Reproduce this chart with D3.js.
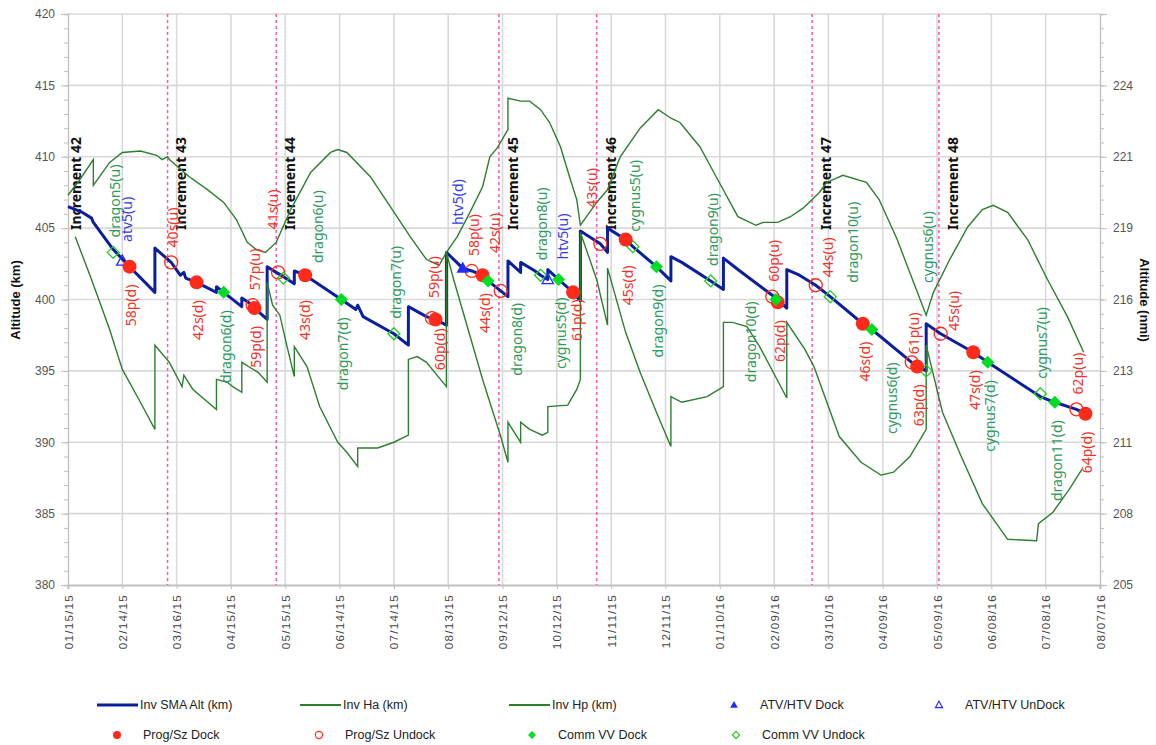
<!DOCTYPE html>
<html><head><meta charset="utf-8">
<script src="https://cdn.jsdelivr.net/npm/d3@7/dist/d3.min.js"></script>
<style>body{margin:0;background:#fff}svg{display:block}</style>
</head><body><svg id="c" width="1156" height="745"></svg>
<script>
// ---------------- DATA ----------------
const xTickLabels = ["01/15/15","02/14/15","03/16/15","04/15/15","05/15/15","06/14/15","07/14/15","08/13/15","09/12/15","10/12/15","11/11/15","12/11/15","01/10/16","02/09/16","03/10/16","04/09/16","05/09/16","06/08/16","07/08/16","08/07/16"];
const kmTicks = [380,385,390,395,400,405,410,415,420];
const nmiTickLabels = ["205","208","211","213","216","219","221","224",""];

const smaAlt = [["2015-01-15",406.5],["2015-01-23",406.1],["2015-01-28",405.7],["2015-01-29",405.4],["2015-02-09",403.5],["2015-02-18",402.3],["2015-03-04",400.5],["2015-03-04",403.6],["2015-03-13",402.6],["2015-03-18",401.7],["2015-03-20",401.9],["2015-03-21",401.5],["2015-03-27",401.2],["2015-04-07",400.5],["2015-04-07",400.9],["2015-04-11",400.5],["2015-04-21",399.5],["2015-04-21",400.1],["2015-04-27",399.6],["2015-04-28",399.4],["2015-05-05",398.6],["2015-05-05",402.3],["2015-05-10",401.9],["2015-05-14",401.6],["2015-05-20",401.1],["2015-05-20",402.0],["2015-05-26",401.7],["2015-06-15",400.0],["2015-06-23",399.3],["2015-06-24",399.6],["2015-06-27",398.8],["2015-07-14",397.6],["2015-07-22",396.8],["2015-07-22",399.5],["2015-08-01",398.8],["2015-08-06",398.6],["2015-08-12",398.2],["2015-08-12",403.3],["2015-08-21",402.2],["2015-08-26",402.0],["2015-09-01",401.7],["2015-09-04",401.3],["2015-09-11",400.6],["2015-09-15",400.2],["2015-09-15",402.7],["2015-09-22",401.9],["2015-09-22",402.6],["2015-09-30",402.0],["2015-10-03",401.7],["2015-10-07",401.4],["2015-10-07",402.1],["2015-10-13",401.4],["2015-10-21",400.5],["2015-10-25",399.9],["2015-10-25",404.8],["2015-11-05",403.9],["2015-11-09",403.3],["2015-11-09",405.0],["2015-11-19",404.2],["2015-11-23",403.7],["2015-12-06",402.3],["2015-12-14",401.3],["2015-12-14",403.0],["2015-12-20",402.6],["2016-01-05",401.3],["2016-01-12",400.7],["2016-01-12",402.9],["2016-01-20",402.1],["2016-02-10",400.1],["2016-02-16",399.4],["2016-02-16",402.1],["2016-02-23",401.7],["2016-03-03",401.0],["2016-03-11",400.2],["2016-03-29",398.3],["2016-04-03",397.9],["2016-04-25",395.6],["2016-04-28",395.3],["2016-05-03",395.0],["2016-05-03",398.3],["2016-05-11",397.6],["2016-05-29",396.3],["2016-06-06",395.6],["2016-07-05",393.2],["2016-07-13",392.8],["2016-07-25",392.3],["2016-07-30",392.0]];

const apogeeHa = [["2015-01-15",407.3],["2015-01-21",408.3],["2015-01-29",409.8],["2015-01-29",408.0],["2015-02-07",409.6],["2015-02-14",410.3],["2015-02-24",410.4],["2015-03-05",410.1],["2015-03-08",409.8],["2015-03-11",410.0],["2015-03-12",409.8],["2015-03-23",408.6],["2015-04-02",407.7],["2015-04-11",406.8],["2015-04-18",405.6],["2015-04-24",404.0],["2015-04-29",403.5],["2015-05-04",403.3],["2015-05-10",404.0],["2015-05-18",406.3],["2015-05-29",408.9],["2015-06-09",410.3],["2015-06-13",410.5],["2015-06-18",410.3],["2015-07-01",408.6],["2015-07-12",406.5],["2015-07-23",404.4],["2015-08-01",402.8],["2015-08-08",402.4],["2015-08-12",403.3],["2015-08-18",404.4],["2015-08-25",406.1],["2015-09-01",407.9],["2015-09-05",410.0],["2015-09-09",410.6],["2015-09-15",411.9],["2015-09-15",414.1],["2015-09-22",413.9],["2015-09-27",413.9],["2015-10-03",413.3],["2015-10-08",412.4],["2015-10-14",410.7],["2015-10-19",408.6],["2015-10-23",407.0],["2015-10-25",405.2],["2015-11-03",406.8],["2015-11-09",407.7],["2015-11-16",410.0],["2015-11-27",412.0],["2015-12-07",413.3],["2015-12-14",412.7],["2015-12-19",412.4],["2015-12-30",410.7],["2016-01-08",408.6],["2016-01-20",405.8],["2016-01-30",405.2],["2016-02-03",405.4],["2016-02-11",405.4],["2016-02-18",405.8],["2016-02-25",406.4],["2016-03-05",407.5],["2016-03-09",408.2],["2016-03-18",408.7],["2016-03-31",408.2],["2016-04-07",407.0],["2016-04-17",404.2],["2016-04-26",401.2],["2016-05-03",398.9],["2016-05-07",400.5],["2016-05-16",402.8],["2016-05-26",405.1],["2016-06-03",406.3],["2016-06-09",406.6],["2016-06-17",406.1],["2016-06-28",404.2],["2016-07-09",401.4],["2016-07-20",398.8],["2016-07-29",396.3]];

const perigeeHp = [["2015-01-19",404.4],["2015-01-28",401.4],["2015-02-07",397.9],["2015-02-14",395.1],["2015-02-24",392.8],["2015-03-04",390.9],["2015-03-04",396.8],["2015-03-12",395.6],["2015-03-19",393.9],["2015-03-20",394.7],["2015-03-25",393.7],["2015-04-07",392.3],["2015-04-07",394.4],["2015-04-13",394.2],["2015-04-16",393.9],["2015-04-21",393.5],["2015-04-21",395.6],["2015-04-26",395.2],["2015-04-30",394.9],["2015-05-05",394.2],["2015-05-05",401.2],["2015-05-08",399.6],["2015-05-12",398.9],["2015-05-16",396.7],["2015-05-20",394.6],["2015-05-20",396.7],["2015-05-27",395.3],["2015-06-03",392.5],["2015-06-13",390.0],["2015-06-18",389.3],["2015-06-24",388.3],["2015-06-24",389.6],["2015-07-05",389.6],["2015-07-14",390.0],["2015-07-22",390.5],["2015-07-22",395.8],["2015-07-27",396.0],["2015-08-01",395.6],["2015-08-12",393.9],["2015-08-12",403.3],["2015-08-16",401.4],["2015-09-01",394.4],["2015-09-11",390.4],["2015-09-15",388.6],["2015-09-15",391.4],["2015-09-22",390.0],["2015-09-22",391.4],["2015-09-27",390.9],["2015-10-04",390.5],["2015-10-07",390.7],["2015-10-07",392.5],["2015-10-18",392.6],["2015-10-23",393.7],["2015-10-25",394.4],["2015-10-25",404.7],["2015-11-03",401.4],["2015-11-09",398.2],["2015-11-09",402.2],["2015-11-19",397.7],["2015-11-27",394.9],["2015-12-06",392.1],["2015-12-14",389.7],["2015-12-14",393.2],["2015-12-20",392.8],["2016-01-03",393.2],["2016-01-12",393.9],["2016-01-12",398.4],["2016-01-17",398.4],["2016-01-25",398.1],["2016-02-01",396.7],["2016-02-16",393.1],["2016-02-16",398.4],["2016-02-26",396.5],["2016-03-02",395.3],["2016-03-16",390.4],["2016-03-28",388.6],["2016-04-08",387.7],["2016-04-15",387.9],["2016-04-24",389.0],["2016-05-03",390.9],["2016-05-03",396.8],["2016-05-12",392.1],["2016-05-22",389.1],["2016-06-03",385.7],["2016-06-17",383.2],["2016-07-03",383.1],["2016-07-04",384.3],["2016-07-12",385.1],["2016-07-21",386.7],["2016-07-28",388.1]];

const atvHtvDock = [["htv5(d)","2015-08-21",402.2]];
const atvHtvUndock = [["atv5(u)","2015-02-14",402.7],["htv5(u)","2015-10-07",401.4]];
const progSzDock = [["58p(d)","2015-02-18",402.3],["42s(d)","2015-03-27",401.2],["59p(d)","2015-04-28",399.4],["43s(d)","2015-05-26",401.7],["60p(d)","2015-08-06",398.6],["44s(d)","2015-09-01",401.7],["61p(d)","2015-10-21",400.5],["45s(d)","2015-11-19",404.2],["62p(d)","2016-02-11",399.8],["46s(d)","2016-03-29",398.3],["63p(d)","2016-04-28",395.3],["47s(d)","2016-05-29",396.3],["64p(d)","2016-07-30",392.0]];
const progSzUndock = [["40s(u)","2015-03-13",402.6],["57p(u)","2015-04-27",399.6],["41s(u)","2015-05-11",401.9],["59p(u)","2015-08-04",398.7],["58p(u)","2015-08-26",402.0],["42s(u)","2015-09-11",400.6],["43s(u)","2015-11-05",403.9],["60p(u)","2016-02-08",400.2],["44s(u)","2016-03-03",401.0],["61p(u)","2016-04-25",395.6],["45s(u)","2016-05-11",397.6],["62p(u)","2016-07-25",392.3]];
const commVVDock = [["dragon6(d)","2015-04-11",400.5],["dragon7(d)","2015-06-15",400.0],["dragon8(d)","2015-09-04",401.3],["cygnus5(d)","2015-10-13",401.4],["dragon9(d)","2015-12-06",402.3],["dragon10(d)","2016-02-10",400.0],["cygnus6(d)","2016-04-03",397.9],["cygnus7(d)","2016-06-06",395.6],["dragon11(d)","2016-07-13",392.8]];
const commVVUndock = [["dragon5(u)","2015-02-09",403.3],["dragon6(u)","2015-05-14",401.5],["dragon7(u)","2015-07-14",397.6],["dragon8(u)","2015-10-03",401.7],["cygnus5(u)","2015-11-23",403.7],["dragon9(u)","2016-01-05",401.3],["dragon10(u)","2016-03-11",400.2],["cygnus6(u)","2016-05-03",395.0],["cygnus7(u)","2016-07-05",393.4]];

const incrementNames = ["Increment 42","Increment 43","Increment 44","Increment 45","Increment 46","Increment 47","Increment 48"];
const incrementDates = ["2015-01-12","2015-03-11","2015-05-10","2015-09-10","2015-11-03","2016-03-01","2016-05-10"];

// label placement tweaks (pixels), separate from data
const labelNudge = {"41s(u)":[-7,-28],"dragon6(u)":[33,0],"42s(u)":[-8,-23],"dragon8(d)":[27,4],"htv5(u)":[13,-5],"61p(d)":[2,-11],"43s(u)":[-10,-21],"45s(d)":[0,8],"dragon10(d)":[-27,-16],"44s(u)":[10,7],"dragon10(u)":[21,1],"cygnus6(d)":[18,15],"61p(u)":[0,7],"cygnus6(u)":[0,-73],"45s(u)":[11,12],"60p(d)":[3,-9],"atv5(u)":[3,-4],"43s(d)":[-2,7],"59p(u)":[0,-5],"htv5(d)":[-7,-28]};
const labelAbove = {"htv5(d)":true};

// ---------------- CHART ----------------
const parse = d3.timeParse("%Y-%m-%d");
const parseTick = d3.timeParse("%m/%d/%y");
const svg = d3.select("#c");
const L = 68, R = 1100, T = 14, B = 585;
const x = d3.scaleTime().domain([parseTick(xTickLabels[0]), parseTick(xTickLabels[xTickLabels.length-1])]).range([L, R]);
const y = d3.scaleLinear().domain([380, 420]).range([B, T]);

const gridC = "#d9d9d9", axisC = "#bfbfbf";
// grid
svg.append("g").selectAll("line").data(xTickLabels.slice(1, -1)).join("line")
  .attr("x1", d => x(parseTick(d))).attr("x2", d => x(parseTick(d)))
  .attr("y1", T).attr("y2", B).attr("stroke", gridC).attr("stroke-width", 1.6);
svg.append("g").selectAll("line").data(kmTicks.slice(1)).join("line")
  .attr("x1", L).attr("x2", R).attr("y1", d => y(d)).attr("y2", d => y(d))
  .attr("stroke", gridC).attr("stroke-width", 1.6);

// axes
const leftAx = svg.append("g").attr("transform", `translate(${L},0)`)
  .call(d3.axisLeft(y).tickValues(d3.range(380, 420.01, 1)).tickSize(4).tickFormat(""));
leftAx.selectAll("line").attr("stroke", axisC);
leftAx.select(".domain").attr("stroke", axisC).attr("stroke-width", 1.3);
const leftMaj = svg.append("g").attr("transform", `translate(${L},0)`)
  .call(d3.axisLeft(y).tickValues(kmTicks).tickSize(7).tickPadding(6).tickFormat(d3.format("d")));
leftMaj.select(".domain").remove();
leftMaj.selectAll("line").attr("stroke", axisC);
leftMaj.selectAll("text").attr("fill", "#555").style("font", "12px 'Liberation Sans', Arial, sans-serif");

const rightAx = svg.append("g").attr("transform", `translate(${R},0)`)
  .call(d3.axisRight(y).tickValues(d3.range(380, 420.01, 1)).tickSize(4).tickFormat(""));
rightAx.selectAll("line").attr("stroke", axisC);
rightAx.select(".domain").attr("stroke", axisC).attr("stroke-width", 1.3);
const rightMaj = svg.append("g").attr("transform", `translate(${R},0)`)
  .call(d3.axisRight(y).tickValues(kmTicks).tickSize(7).tickPadding(6).tickFormat((d, i) => nmiTickLabels[i]));
rightMaj.select(".domain").remove();
rightMaj.selectAll("line").attr("stroke", axisC);
rightMaj.selectAll("text").attr("fill", "#555").style("font", "12px 'Liberation Sans', Arial, sans-serif");

const bottomAx = svg.append("g").attr("transform", `translate(0,${B})`)
  .call(d3.axisBottom(x).tickValues(xTickLabels.map(parseTick)).tickSize(4).tickFormat((d, i) => xTickLabels[i]));
bottomAx.select(".domain").attr("stroke", axisC).attr("stroke-width", 2.2);
bottomAx.selectAll("line").attr("stroke", axisC);
bottomAx.selectAll("text").attr("transform", "rotate(-90)").attr("text-anchor", "end")
  .attr("x", -9).attr("y", 0).attr("dy", "0.35em")
  .attr("fill", "#444").style("font", "11.5px 'Liberation Sans', Arial, sans-serif").style("letter-spacing", "1.3px");

// axis titles
svg.append("text").attr("transform", "translate(20,300) rotate(-90)").attr("text-anchor", "middle")
  .style("font", "bold 13px 'Liberation Sans', Arial, sans-serif").attr("fill", "#111").text("Altitude (km)");
svg.append("text").attr("transform", "translate(1140,300) rotate(90)").attr("text-anchor", "middle")
  .style("font", "bold 13px 'Liberation Sans', Arial, sans-serif").attr("fill", "#111").text("Altitude (nmi)");

// increment lines
const incG = svg.append("g");
incrementDates.forEach((ds, i) => {
  const xx = x(parse(ds));
  if (xx > L + 1) {
    incG.append("line").attr("x1", xx).attr("x2", xx).attr("y1", T).attr("y2", B)
      .attr("stroke", "#ff55b0").attr("stroke-width", 1.5).attr("stroke-dasharray", "3,3");
  }
});

// series lines
const line = d3.line().x(d => x(parse(d[0]))).y(d => y(d[1]));
const NAVY = "#0b1f9c", GREEN = "#2b7f2f";
svg.append("path").datum(smaAlt).attr("d", line).attr("fill", "none").attr("stroke", NAVY)
  .attr("stroke-width", 3).attr("stroke-linejoin", "round");
svg.append("path").datum(apogeeHa).attr("d", line).attr("fill", "none").attr("stroke", GREEN).attr("stroke-width", 1.4);
svg.append("path").datum(perigeeHp).attr("d", line).attr("fill", "none").attr("stroke", GREEN).attr("stroke-width", 1.4);

// increment labels (on top of lines)
incrementDates.forEach((ds, i) => {
  const xx = x(parse(ds));
  incG.append("text").attr("transform", `translate(${xx + 14},230) rotate(-90)`).attr("dy", "0.35em")
    .attr("text-anchor", "start").style("font", "bold 14px 'Noto Sans', sans-serif").attr("fill", "#111")
    .text(incrementNames[i]);
});

// markers
const RED = "#ff2a1a", VVG = "#00dd22", BLUE = "#1f2bff";
const diamond = r => `M0,${-r}L${r},0L0,${r}L${-r},0Z`;
const tri = r => `M0,${-r}L${r * 0.95},${r * 0.7}L${-r * 0.95},${r * 0.7}Z`;
function markers(data, kind) {
  const g = svg.append("g");
  data.forEach(d => {
    const px = x(parse(d[1])), py = y(d[2]);
    let el;
    if (kind === "progDock") el = g.append("circle").attr("r", 7).attr("fill", RED);
    else if (kind === "progUndock") el = g.append("circle").attr("r", 6.5).attr("fill", "none").attr("stroke", RED).attr("stroke-width", 1.3);
    else if (kind === "vvDock") el = g.append("path").attr("d", diamond(6.5)).attr("fill", VVG);
    else if (kind === "vvUndock") el = g.append("path").attr("d", diamond(6)).attr("fill", "none").attr("stroke", "#22cc22").attr("stroke-width", 1.3);
    else if (kind === "atvDock") el = g.append("path").attr("d", tri(6.5)).attr("fill", BLUE);
    else el = g.append("path").attr("d", tri(6)).attr("fill", "none").attr("stroke", BLUE).attr("stroke-width", 1.3);
    if (kind !== "progDock" && kind !== "progUndock") el.attr("transform", `translate(${px},${py})`);
    else el.attr("cx", px).attr("cy", py);
  });
}
markers(progSzUndock, "progUndock");
markers(commVVUndock, "vvUndock");
markers(atvHtvUndock, "atvUndock");
markers(progSzDock, "progDock");
markers(commVVDock, "vvDock");
markers(atvHtvDock, "atvDock");

// data labels
function labels(data, color) {
  const g = svg.append("g");
  data.forEach(d => {
    const name = d[0];
    const px = x(parse(d[1])), py = y(d[2]);
    const above = labelAbove[name] || name.endsWith("(u)");
    const nd = labelNudge[name] || [0, 0];
    const lx = px + 2 + nd[0];
    const ly = (above ? py - 15 : py + 18) + nd[1];
    g.append("text").attr("transform", `translate(${lx},${ly}) rotate(-90)`).attr("dy", "0.35em")
      .attr("text-anchor", above ? "start" : "end")
      .style("font", "14px 'Noto Sans', sans-serif").attr("fill", color).text(name);
  });
}
const LBL_RED = "#f03228", LBL_GREEN = "#2e9a5c", LBL_BLUE = "#3a3af0";
labels(progSzDock, LBL_RED);
labels(progSzUndock, LBL_RED);
labels(commVVDock, LBL_GREEN);
labels(commVVUndock, LBL_GREEN);
labels(atvHtvDock, LBL_BLUE);
labels(atvHtvUndock, LBL_BLUE);

// legend
const lg = svg.append("g").style("font", "12.5px 'Liberation Sans', Arial, sans-serif").attr("fill", "#222");
const legendRow1 = [
  {t: "Inv SMA Alt (km)", x: 140, k: "line", c: NAVY, w: 3},
  {t: "Inv Ha (km)", x: 343, k: "line", c: GREEN, w: 2},
  {t: "Inv Hp (km)", x: 552, k: "line", c: GREEN, w: 2},
  {t: "ATV/HTV Dock", x: 760, k: "atvDock"},
  {t: "ATV/HTV UnDock", x: 965, k: "atvUndock"}
];
const legendRow2 = [
  {t: "Prog/Sz Dock", x: 143, k: "progDock"},
  {t: "Prog/Sz Undock", x: 345, k: "progUndock"},
  {t: "Comm VV Dock", x: 558, k: "vvDock"},
  {t: "Comm VV Undock", x: 762, k: "vvUndock"}
];
function legendItem(it, yy) {
  const mx = it.x - 26;
  if (it.k === "line") lg.append("line").attr("x1", it.x - 43).attr("x2", it.x - 2).attr("y1", yy).attr("y2", yy).attr("stroke", it.c).attr("stroke-width", it.w);
  else if (it.k === "progDock") lg.append("circle").attr("cx", mx).attr("cy", yy).attr("r", 4).attr("fill", RED);
  else if (it.k === "progUndock") lg.append("circle").attr("cx", mx).attr("cy", yy).attr("r", 3.6).attr("fill", "none").attr("stroke", RED).attr("stroke-width", 1.2);
  else if (it.k === "vvDock") lg.append("path").attr("transform", `translate(${mx},${yy})`).attr("d", diamond(4)).attr("fill", VVG);
  else if (it.k === "vvUndock") lg.append("path").attr("transform", `translate(${mx},${yy})`).attr("d", diamond(3.6)).attr("fill", "none").attr("stroke", "#22cc22").attr("stroke-width", 1.2);
  else if (it.k === "atvDock") lg.append("path").attr("transform", `translate(${mx},${yy})`).attr("d", tri(4)).attr("fill", BLUE);
  else lg.append("path").attr("transform", `translate(${mx},${yy})`).attr("d", tri(3.8)).attr("fill", "none").attr("stroke", BLUE).attr("stroke-width", 1.1);
  lg.append("text").attr("x", it.x).attr("y", yy).attr("dy", "0.35em").text(it.t);
}
legendRow1.forEach(it => legendItem(it, 705));
legendRow2.forEach(it => legendItem(it, 735));
</script></body></html>
